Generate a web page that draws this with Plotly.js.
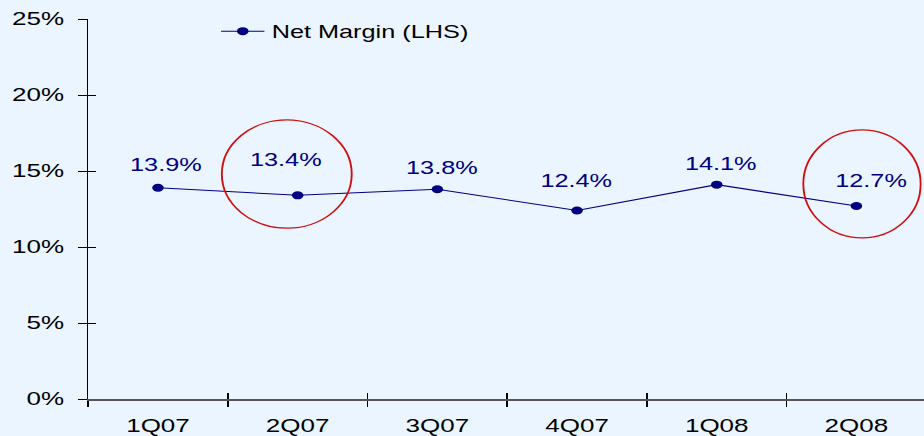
<!DOCTYPE html>
<html>
<head>
<meta charset="utf-8">
<script src="https://cdn.plot.ly/plotly-3.0.1.min.js"></script>
<style>
  html, body { margin: 0; padding: 0; background: #EBF5FF; overflow: hidden; width: 924px; height: 436px; }
  #chart { width: 642px; height: 436px; transform: scaleX(1.445); transform-origin: 0 0; }
</style>
</head>
<body>
<div id="chart"></div>
<script>
// ---- data ----
const categories = ['1Q07', '2Q07', '3Q07', '4Q07', '1Q08', '2Q08'];
const netMargin = [13.9, 13.4, 13.8, 12.4, 14.1, 12.7];
const seriesName = 'Net Margin (LHS)';
const yTickVals = [0, 5, 10, 15, 20, 25];
const yTickText = ['0%', '5%', '10%', '15%', '20%', '25%'];
const highlighted = ['2Q07', '2Q08'];

// ---- styles ----
const navy = '#000080';
const labelShiftX = [5.5, -7.6, 3.4, 0, 3.4, 10.3];
const labelShiftY = [23, 35, 21, 30, 21, 25];
const ellipseStyle = {
  '2Q07': {dx: -0.078, dy: 1.4, rx: 0.465, ry: 3.56},
  '2Q08': {dx: 0.04, dy: 1.45, rx: 0.42, ry: 3.55}
};
const font = 'Liberation Sans, Arial, sans-serif';

const traces = [
  {
    x: categories, y: netMargin, name: seriesName, type: 'scatter', mode: 'lines+markers',
    line: {color: navy, width: 1.1}, marker: {color: navy, size: 8},
    hoverinfo: 'skip'
  },
  {
    x: categories, y: netMargin, xaxis: 'x2', yaxis: 'y2', type: 'scatter', mode: 'markers',
    opacity: 0, showlegend: false, hoverinfo: 'skip'
  }
];

const annotations = categories.map((c, i) => ({
  x: c, y: netMargin[i], xref: 'x', yref: 'y',
  text: netMargin[i].toFixed(1) + '%', showarrow: false,
  xshift: labelShiftX[i], yshift: labelShiftY[i], yanchor: 'middle',
  font: {family: font, size: 17.5, color: navy}
}));

const shapes = highlighted.map(c => {
  const i = categories.indexOf(c);
  const s = ellipseStyle[c];
  const cx = i + s.dx, cy = netMargin[i] + s.dy;
  return {
    type: 'circle', xref: 'x', yref: 'y',
    x0: cx - s.rx, x1: cx + s.rx, y0: cy - s.ry, y1: cy + s.ry,
    line: {color: '#D01010', width: 1.3}
  };
});

const axisCommon = {
  showgrid: false, zeroline: false
};

const layout = {
  width: 642, height: 436,
  margin: {l: 61, r: 1, t: 19, b: 37},
  paper_bgcolor: '#EBF5FF', plot_bgcolor: '#EBF5FF',
  font: {family: font, size: 18, color: '#000000'},
  showlegend: true,
  legend: {x: 0.15, y: 1.015, xanchor: 'left', yanchor: 'top', bgcolor: 'rgba(0,0,0,0)',
           font: {family: font, size: 17.5, color: '#000'}},
  xaxis: Object.assign({}, axisCommon, {
    type: 'category', categoryarray: categories, range: [-0.5, 5.5],
    tickson: 'boundaries', ticks: 'outside', ticklen: 6, tickcolor: '#000', tickwidth: 1,
    showline: true, linecolor: '#555555', linewidth: 1.5,
    ticklabelstandoff: 10,
    tickfont: {family: font, size: 18, color: '#000'}
  }),
  yaxis: Object.assign({}, axisCommon, {
    range: [0, 25], tickvals: yTickVals, ticktext: yTickText, tickmode: 'array',
    ticks: 'outside', ticklen: 6, tickcolor: '#000', tickwidth: 1,
    showline: true, linecolor: '#000', linewidth: 1,
    ticklabelstandoff: 6,
    tickfont: {family: font, size: 18, color: '#000'}
  }),
  xaxis2: Object.assign({}, axisCommon, {
    type: 'category', categoryarray: categories, range: [-0.5, 5.5],
    overlaying: 'x', anchor: 'y2', side: 'bottom',
    tickson: 'boundaries', ticks: 'inside', ticklen: 6, tickcolor: '#000', tickwidth: 1,
    showticklabels: false, showline: false
  }),
  yaxis2: Object.assign({}, axisCommon, {
    range: [0, 25], tickvals: yTickVals, tickmode: 'array', overlaying: 'y', anchor: 'x2', side: 'left',
    ticks: 'inside', ticklen: 5.5, tickcolor: '#000', tickwidth: 1,
    showticklabels: false, showline: false
  }),
  annotations: annotations,
  shapes: shapes
};

Plotly.newPlot('chart', traces, layout, {displayModeBar: false, staticPlot: true});
</script>
</body>
</html>
